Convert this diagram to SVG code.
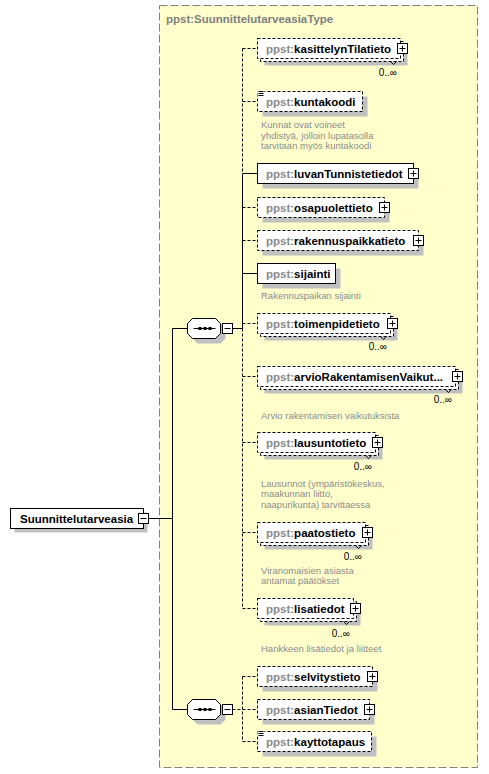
<svg xmlns="http://www.w3.org/2000/svg" xmlns:xlink="http://www.w3.org/1999/xlink" width="489" height="774" viewBox="0 0 489 774">
<style>
text{font-family:"Liberation Sans",Arial,sans-serif}
.lbl{font-size:11.5px;font-weight:bold;fill:#000}
.ns{fill:#8a8a8a}
.ann{font-size:9.5px;fill:#8c8c8c}
.mult{font-size:10px;fill:#000}
.box{fill:#fff;stroke:#000;stroke-width:1}
.opt{stroke-dasharray:3,2}
.sh{fill:#c0c0c0;stroke:none}
.ln{fill:none;stroke:#000;stroke-width:1}
.dl{fill:none;stroke:#000;stroke-width:1;stroke-dasharray:3,2}
</style>
<defs>
<g id="plus"><rect x="-5" y="-5" width="10" height="10" fill="#fff" stroke="#000"/><path d="M-3,0H3M0,-3V3" stroke="#000" fill="none"/></g>
<g id="minus"><rect x="-5" y="-5" width="10" height="10" fill="#fff" stroke="#000"/><path d="M-3,0H3" stroke="#000" fill="none"/></g>
<g id="doc"><rect x="0" y="-1" width="7" height="6" fill="#fff"/><path d="M1,0H6M1,2H6M1,4H6" stroke="#000" fill="none"/></g>
<g id="oct">
<path d="M10,5.5H33L38,10.5V20.5L33,25.5H10L5,20.5V10.5Z" class="sh"/>
<path d="M5,0.5H28L33,5.5V15.5L28,20.5H5L0,15.5V5.5Z" fill="#fff" stroke="#000"/>
<path d="M6,10.5H28" stroke="#000" fill="none"/>
<rect x="11" y="9" width="3" height="3" fill="#000"/><rect x="16" y="9" width="3" height="3" fill="#000"/><rect x="21" y="9" width="3" height="3" fill="#000"/>
</g>
</defs>

<g id="type-box">
<rect x="159.5" y="5.5" width="318" height="762" fill="#ffffcc" stroke="#808080" stroke-dasharray="8,3"/>
<text x="166" y="23" class="lbl" fill="#808080" style="fill:#808080">ppst:SuunnittelutarveasiaType</text>
</g>

<g id="connectors">
<path class="ln" d="M148.5,518.5H172.5M172.5,328.5V709.5M172.5,328.5H187.5M172.5,709.5H187.5M232.5,328.5H242.5"/>
<path class="dl" d="M242.5,48.5V173.5M242.5,328.5V608.5"/>
<path class="ln" d="M242.5,173.5V328.5M242.5,173.5H257.5M242.5,273.5H257.5"/>
<path class="dl" d="M242.5,48.5H257.5M242.5,101.5H257.5M242.5,207.5H257.5M242.5,240.5H257.5M242.5,323.5H257.5M242.5,376.5H257.5M242.5,442.5H257.5M242.5,532.5H257.5M242.5,608.5H257.5"/>
<path class="dl" d="M232.5,709.5H257.5M242.5,676.5V741.5M242.5,676.5H257.5M242.5,741.5H257.5"/>
</g>

<g id="root">
<rect x="14.5" y="512.5" width="133" height="20" class="sh"/>
<rect x="10.5" y="508.5" width="133" height="20" class="box"/>
<text x="20" y="522.5" class="lbl">Suunnittelutarveasia</text>
<use xlink:href="#minus" href="#minus" x="143.5" y="518.5"/>
</g>

<g id="seq1">
<use xlink:href="#oct" href="#oct" x="187.5" y="318"/>
<use xlink:href="#minus" href="#minus" x="227.5" y="328.5"/>
</g>

<g id="seq2">
<use xlink:href="#oct" href="#oct" x="187.5" y="699"/>
<use xlink:href="#minus" href="#minus" x="227.5" y="709.5"/>
</g>

<g id="kasittelynTilatieto">
<rect x="264.5" y="45.5" width="143" height="20" class="sh"/>
<rect x="260.5" y="41.5" width="143" height="20" class="box opt"/>
<rect x="257.5" y="38.5" width="143" height="20" class="box opt"/>
<path d="M390.5,61.5l3,3l3,-3" class="ln"/>
<text x="266" y="52.5" class="lbl"><tspan class="ns">ppst:</tspan>kasittelynTilatieto</text>
<use xlink:href="#plus" href="#plus" x="402.5" y="48.5"/>
<text x="397" y="76" class="mult" text-anchor="end">0..∞</text>
</g>

<g id="kuntakoodi">
<rect x="262.5" y="96.5" width="105" height="20" class="sh"/>
<rect x="257.5" y="91.5" width="105" height="20" class="box opt"/>
<use xlink:href="#doc" href="#doc" x="257.5" y="91.5"/>
<text x="266" y="105.5" class="lbl"><tspan class="ns">ppst:</tspan>kuntakoodi</text>
<text class="ann"><tspan x="261" y="128">Kunnat ovat voineet</tspan><tspan x="261" y="138.7">yhdistyä, jolloin lupatasolla</tspan><tspan x="261" y="149.4">tarvitaan myös kuntakoodi</tspan></text>
</g>

<g id="luvanTunnistetiedot">
<rect x="262.5" y="168.5" width="156" height="20" class="sh"/>
<rect x="257.5" y="163.5" width="156" height="20" class="box"/>
<text x="266" y="177.5" class="lbl"><tspan class="ns">ppst:</tspan>luvanTunnistetiedot</text>
<use xlink:href="#plus" href="#plus" x="413.5" y="173.5"/>
</g>

<g id="osapuolettieto">
<rect x="262.5" y="202.5" width="127" height="20" class="sh"/>
<rect x="257.5" y="197.5" width="127" height="20" class="box opt"/>
<text x="266" y="211.5" class="lbl"><tspan class="ns">ppst:</tspan>osapuolettieto</text>
<use xlink:href="#plus" href="#plus" x="384.5" y="207.5"/>
</g>

<g id="rakennuspaikkatieto">
<rect x="262.5" y="235.5" width="161" height="20" class="sh"/>
<rect x="257.5" y="230.5" width="161" height="20" class="box opt"/>
<text x="266" y="244.5" class="lbl"><tspan class="ns">ppst:</tspan>rakennuspaikkatieto</text>
<use xlink:href="#plus" href="#plus" x="418.5" y="240.5"/>
</g>

<g id="sijainti">
<rect x="262.5" y="268.5" width="78" height="20" class="sh"/>
<rect x="257.5" y="263.5" width="78" height="20" class="box"/>
<text x="266" y="277.5" class="lbl"><tspan class="ns">ppst:</tspan>sijainti</text>
<text x="261" y="298.5" class="ann">Rakennuspaikan sijainti</text>
</g>

<g id="toimenpidetieto">
<rect x="264.5" y="320.5" width="133" height="20" class="sh"/>
<rect x="260.5" y="316.5" width="133" height="20" class="box opt"/>
<rect x="257.5" y="313.5" width="133" height="20" class="box opt"/>
<path d="M380.5,336.5l3,3l3,-3" class="ln"/>
<text x="266" y="327.5" class="lbl"><tspan class="ns">ppst:</tspan>toimenpidetieto</text>
<use xlink:href="#plus" href="#plus" x="392.5" y="323.5"/>
<text x="387" y="350" class="mult" text-anchor="end">0..∞</text>
</g>

<g id="arvioRakentamisenVaikutuksista">
<rect x="264.5" y="373.5" width="198" height="20" class="sh"/>
<rect x="260.5" y="369.5" width="198" height="20" class="box opt"/>
<rect x="257.5" y="366.5" width="198" height="20" class="box opt"/>
<path d="M445.5,389.5l3,3l3,-3" class="ln"/>
<text x="266" y="380.5" class="lbl"><tspan class="ns">ppst:</tspan>arvioRakentamisenVaikut...</text>
<use xlink:href="#plus" href="#plus" x="457.5" y="376.5"/>
<text x="452" y="403" class="mult" text-anchor="end">0..∞</text>
<text x="261" y="418.5" class="ann">Arvio rakentamisen vaikutuksista</text>
</g>

<g id="lausuntotieto">
<rect x="264.5" y="439.5" width="118" height="20" class="sh"/>
<rect x="260.5" y="435.5" width="118" height="20" class="box opt"/>
<rect x="257.5" y="432.5" width="118" height="20" class="box opt"/>
<path d="M365.5,455.5l3,3l3,-3" class="ln"/>
<text x="266" y="446.5" class="lbl"><tspan class="ns">ppst:</tspan>lausuntotieto</text>
<use xlink:href="#plus" href="#plus" x="377.5" y="442.5"/>
<text x="372" y="470" class="mult" text-anchor="end">0..∞</text>
<text class="ann"><tspan x="261" y="486.5">Lausunnot (ympäristökeskus,</tspan><tspan x="261" y="497.2">maakunnan liitto,</tspan><tspan x="261" y="507.9">naapurikunta) tarvittaessa</tspan></text>
</g>

<g id="paatostieto">
<rect x="264.5" y="529.5" width="108" height="20" class="sh"/>
<rect x="260.5" y="525.5" width="108" height="20" class="box opt"/>
<rect x="257.5" y="522.5" width="108" height="20" class="box opt"/>
<path d="M355.5,545.5l3,3l3,-3" class="ln"/>
<text x="266" y="536.5" class="lbl"><tspan class="ns">ppst:</tspan>paatostieto</text>
<use xlink:href="#plus" href="#plus" x="367.5" y="532.5"/>
<text x="362" y="560" class="mult" text-anchor="end">0..∞</text>
<text class="ann"><tspan x="261" y="573.5">Viranomaisien asiasta</tspan><tspan x="261" y="584.2">antamat päätökset</tspan></text>
</g>

<g id="lisatiedot">
<rect x="264.5" y="605.5" width="96" height="20" class="sh"/>
<rect x="260.5" y="601.5" width="96" height="20" class="box opt"/>
<rect x="257.5" y="598.5" width="96" height="20" class="box opt"/>
<path d="M343.5,621.5l3,3l3,-3" class="ln"/>
<text x="266" y="612.5" class="lbl"><tspan class="ns">ppst:</tspan>lisatiedot</text>
<use xlink:href="#plus" href="#plus" x="355.5" y="608.5"/>
<text x="350" y="637" class="mult" text-anchor="end">0..∞</text>
<text x="261" y="651.5" class="ann">Hankkeen lisätiedot ja liitteet</text>
</g>

<g id="selvitystieto">
<rect x="262.5" y="671.5" width="115" height="20" class="sh"/>
<rect x="257.5" y="666.5" width="115" height="20" class="box opt"/>
<text x="266" y="680.5" class="lbl"><tspan class="ns">ppst:</tspan>selvitystieto</text>
<use xlink:href="#plus" href="#plus" x="372.5" y="676.5"/>
</g>

<g id="asianTiedot">
<rect x="262.5" y="704.5" width="112" height="20" class="sh"/>
<rect x="257.5" y="699.5" width="112" height="20" class="box opt"/>
<text x="266" y="713.5" class="lbl"><tspan class="ns">ppst:</tspan>asianTiedot</text>
<use xlink:href="#plus" href="#plus" x="369.5" y="709.5"/>
</g>

<g id="kayttotapaus">
<rect x="262.5" y="736.5" width="114" height="20" class="sh"/>
<rect x="257.5" y="731.5" width="114" height="20" class="box opt"/>
<use xlink:href="#doc" href="#doc" x="257.5" y="731.5"/>
<text x="266" y="745.5" class="lbl"><tspan class="ns">ppst:</tspan>kayttotapaus</text>
</g>
</svg>
